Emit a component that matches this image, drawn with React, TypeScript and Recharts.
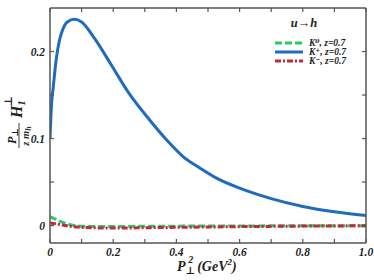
import React from 'react';
import { ComposedChart, Line, XAxis, YAxis, Legend } from 'recharts';

const xValues = [0, 0.005, 0.01, 0.02, 0.03, 0.04, 0.055, 0.077, 0.1, 0.142, 0.195, 0.248, 0.316, 0.37, 0.422, 0.475, 0.527, 0.6, 0.7, 0.8, 0.9, 1.0];
const kPlus = [0.1, 0.14, 0.158, 0.192, 0.213, 0.225, 0.234, 0.237, 0.234, 0.2145, 0.184, 0.153, 0.121, 0.098, 0.079, 0.066, 0.0545, 0.043, 0.031, 0.022, 0.0158, 0.0115];
const kZero = [0.0105, 0.0095, 0.0087, 0.007, 0.0052, 0.0037, 0.0018, 0.0, -0.0008, -0.0011, -0.001, -0.0009, -0.0008, -0.0007, -0.0006, -0.0005, -0.0005, -0.0004, -0.0003, -0.0003, -0.0002, -0.0002];
const kMinus = [0.003, 0.0028, 0.0025, 0.002, 0.0013, 0.0006, -0.0003, -0.0013, -0.002, -0.0026, -0.0028, -0.0027, -0.0024, -0.0021, -0.0019, -0.0017, -0.0015, -0.0012, -0.0009, -0.0006, -0.0004, -0.0002];

const xTicks = [0, 0.1, 0.2, 0.3, 0.4, 0.5, 0.6, 0.7, 0.8, 0.9, 1.0];
const xTickLabels: Record<string, string> = { '0': '0', '0.2': '0.2', '0.4': '0.4', '0.6': '0.6', '0.8': '0.8', '1': '1.0' };
const yTicks = [0, 0.05, 0.1, 0.15, 0.2];
const yTickLabels: Record<string, string> = { '0': '0', '0.1': '0.1', '0.2': '0.2' };

const seriesNames = ['K\u2070, z=0.7', 'K\u207A, z=0.7', 'K\u207B, z=0.7'];
const legendTitle = 'u\u2192h';

const data = xValues.map((x, i) => ({ x, k0: kZero[i], kp: kPlus[i], km: kMinus[i] }));

const FONT = '"Liberation Serif", "DejaVu Serif", serif';
const AXIS = '#555';
const GREEN = '#2dc76a';
const BLUE = '#1f6bbd';
const RED = '#c02a3a';

const BottomTick = (props: any) => {
  const { x, y, payload } = props;
  const key = String(Math.round(payload.value * 10) / 10);
  const lbl = xTickLabels[key];
  return (
    <g>
      <line x1={x} y1={y} x2={x} y2={y - 4} stroke={AXIS} strokeWidth={1.2} />
      {lbl !== undefined && (
        <text x={x} y={y + 13} textAnchor="middle" fontFamily={FONT} fontWeight="bold" fontStyle="italic" fontSize={11.5} fill="#222">
          {lbl}
        </text>
      )}
    </g>
  );
};

const TopTick = (props: any) => {
  const { x, y } = props;
  return <line x1={x} y1={y} x2={x} y2={y + 4} stroke={AXIS} strokeWidth={1.2} />;
};

const LeftTick = (props: any) => {
  const { x, y, payload } = props;
  const key = String(Math.round(payload.value * 100) / 100);
  const lbl = yTickLabels[key];
  return (
    <g>
      <line x1={x} y1={y} x2={x + 4} y2={y} stroke={AXIS} strokeWidth={1.2} />
      {lbl !== undefined && (
        <text x={x - 5} y={y + 4} textAnchor="end" fontFamily={FONT} fontWeight="bold" fontStyle="italic" fontSize={11.5} fill="#222">
          {lbl}
        </text>
      )}
    </g>
  );
};

const RightTick = (props: any) => {
  const { x, y } = props;
  return <line x1={x} y1={y} x2={x - 4} y2={y} stroke={AXIS} strokeWidth={1.2} />;
};

const LegendBox = () => {
  const colors = [GREEN, BLUE, RED];
  const dashes = ['7 3', undefined, '6 2 2 2'];
  const ys = [43, 52, 61];
  return (
    <svg width={110} height={70} style={{ position: 'absolute', left: 0, top: 0, overflow: 'visible' }}>
      <text x={304} y={27} textAnchor="middle" fontFamily={FONT} fontWeight="bold" fontStyle="italic" fontSize={12.5} fill="#222">
        {legendTitle}
      </text>
      {seriesNames.map((n, i) => (
        <g key={n}>
          <line x1={275} x2={303} y1={ys[i]} y2={ys[i]} stroke={colors[i]} strokeWidth={3} strokeDasharray={dashes[i]} />
          <text x={309} y={ys[i] + 3} fontFamily={FONT} fontWeight="bold" fontStyle="italic" fontSize={9.5} fill="#222">
            {n}
          </text>
        </g>
      ))}
    </svg>
  );
};

export default function App() {
  return (
    <div style={{ position: 'absolute', left: 0, top: 0, width: 374, height: 280, background: '#fff' }}>
      <ComposedChart width={374} height={280} data={data} margin={{ top: 7, right: 7, left: 49, bottom: 36 }}>
        <XAxis
          dataKey="x"
          type="number"
          domain={[0, 1]}
          ticks={xTicks}
          height={1}
          tickSize={0}
          tickMargin={0}
          tickLine={false}
          tick={<BottomTick />}
          stroke={AXIS}
          strokeWidth={1.5}
          interval={0}
          allowDataOverflow
        />
        <XAxis
          xAxisId="top"
          orientation="top"
          dataKey="x"
          type="number"
          domain={[0, 1]}
          ticks={xTicks}
          height={1}
          tickSize={0}
          tickMargin={0}
          tickLine={false}
          tick={<TopTick />}
          stroke={AXIS}
          strokeWidth={1.5}
          interval={0}
          allowDataOverflow
        />
        <YAxis
          type="number"
          domain={[-0.02, 0.25]}
          ticks={yTicks}
          width={1}
          tickSize={0}
          tickMargin={0}
          tickLine={false}
          tick={<LeftTick />}
          stroke={AXIS}
          strokeWidth={1.5}
          interval={0}
          allowDataOverflow
        />
        <YAxis
          yAxisId="right"
          orientation="right"
          type="number"
          domain={[-0.02, 0.25]}
          ticks={yTicks}
          width={1}
          tickSize={0}
          tickMargin={0}
          tickLine={false}
          tick={<RightTick />}
          stroke={AXIS}
          strokeWidth={1.5}
          interval={0}
          allowDataOverflow
        />
        <Legend
          content={<LegendBox />}
          wrapperStyle={{ position: 'absolute', left: 0, top: 0, width: 1, height: 1 }}
        />
        <Line dataKey="kp" name={seriesNames[1]} type="monotone" stroke={BLUE} strokeWidth={3} dot={false} isAnimationActive={false} />
        <Line dataKey="k0" name={seriesNames[0]} type="monotone" stroke={GREEN} strokeWidth={3} strokeDasharray="7 3" dot={false} isAnimationActive={false} />
        <Line dataKey="km" name={seriesNames[2]} type="monotone" stroke={RED} strokeWidth={3} strokeDasharray="6 2 2 2" dot={false} isAnimationActive={false} />
      </ComposedChart>
      <svg width={374} height={280} style={{ position: 'absolute', left: 0, top: 0, pointerEvents: 'none' }}>
        <text x={177} y={271} fontFamily={FONT} fontWeight="bold" fontStyle="italic" fontSize={14} fill="#222">
          P<tspan dy={3} fontSize={10}>{'\u22A5'}</tspan>
          <tspan dx={-7} dy={-11} fontSize={10}>2</tspan>
          <tspan dx={4} dy={8}>(GeV</tspan>
          <tspan dy={-6} fontSize={9}>2</tspan>
          <tspan dy={6}>)</tspan>
        </text>
        <g transform="translate(20,120) rotate(-90)" fontFamily={FONT} fontWeight="bold" fontStyle="italic" fill="#222">
          <text x={-16} y={-4} textAnchor="middle" fontSize={12}>
            P<tspan dy={2} fontSize={9}>{'\u22A5'}</tspan>
          </text>
          <line x1={-28} x2={-3} y1={-1} y2={-1} stroke="#222" strokeWidth={0.9} />
          <text x={-16} y={9} textAnchor="middle" fontSize={10.5}>
            z m<tspan dy={2} fontSize={8}>h</tspan>
          </text>
          <text x={2} y={2} fontSize={16}>
            H<tspan dy={3} fontSize={10}>1</tspan>
            <tspan dx={-6} dy={-13} fontSize={11}>{'\u22A5'}</tspan>
          </text>
        </g>
      </svg>
    </div>
  );
}
